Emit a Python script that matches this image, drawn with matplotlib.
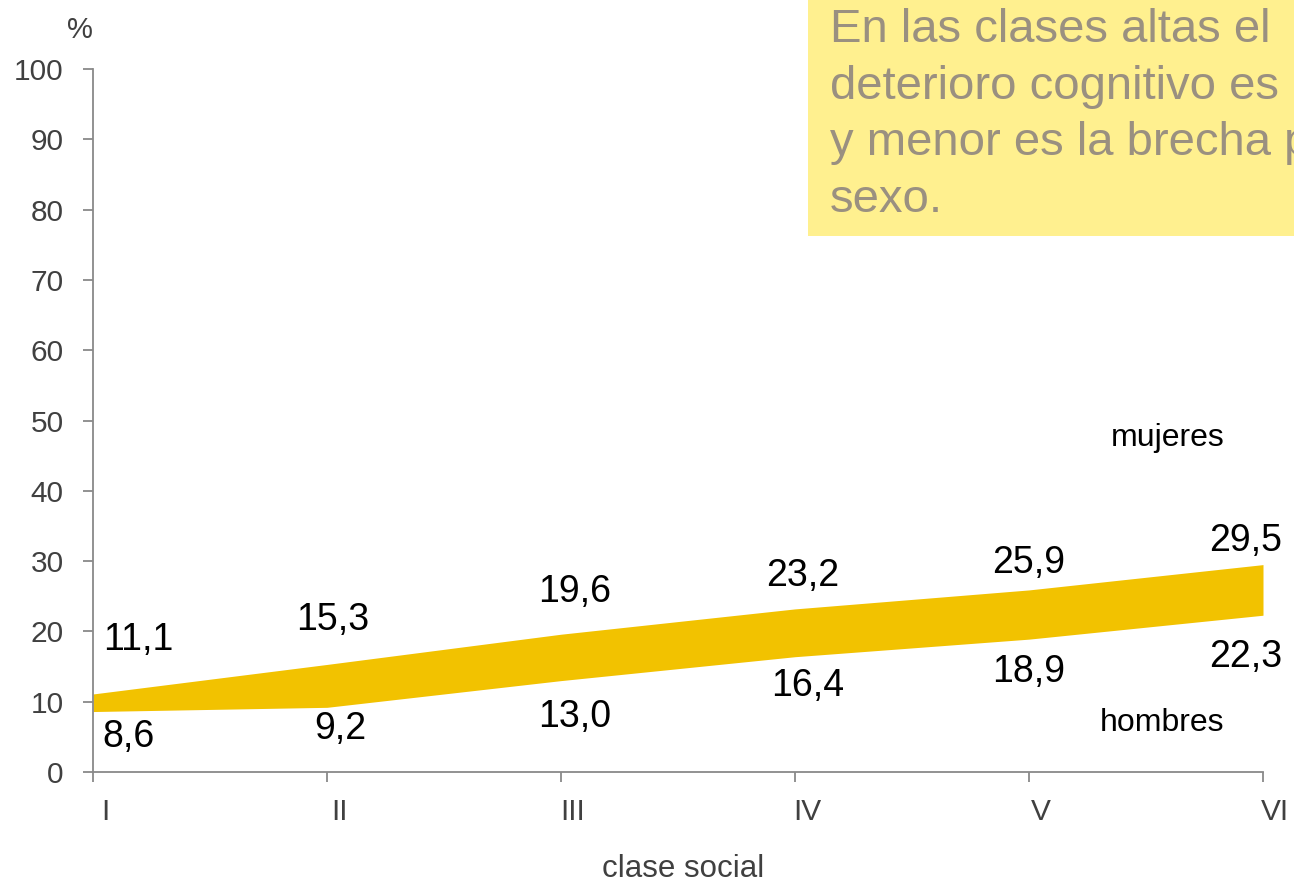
import matplotlib
matplotlib.use("Agg")
import matplotlib.pyplot as plt
import matplotlib.transforms as mtransforms
from matplotlib.patches import Rectangle

plt.rcParams['font.family'] = ['Liberation Sans', 'DejaVu Sans']

categories = ["I", "II", "III", "IV", "V", "VI"]
mujeres = [11.1, 15.3, 19.6, 23.2, 25.9, 29.5]
hombres = [8.6, 9.2, 13.0, 16.4, 18.9, 22.3]
mujeres_labels = ["11,1", "15,3", "19,6", "23,2", "25,9", "29,5"]
hombres_labels = ["8,6", "9,2", "13,0", "16,4", "18,9", "22,3"]
yticks = list(range(0, 101, 10))

W, H = 1294, 885
fig = plt.figure(figsize=(W / 100, H / 100), dpi=100)
ax = fig.add_axes([93 / W, (H - 772) / H, (1263 - 93) / W, (772 - 69) / H])

x = list(range(len(categories)))
ax.fill_between(x, hombres, mujeres, color="#F2C200", linewidth=0)

ax.set_xlim(0, len(categories) - 1)
ax.set_ylim(0, 100)
ax.set_yticks(yticks)
ax.set_xticks(x)
ax.set_xticklabels(categories)
for s in ["top", "right"]:
    ax.spines[s].set_visible(False)
for s in ["left", "bottom"]:
    ax.spines[s].set_color("#898989")
    ax.spines[s].set_linewidth(1.3)
ax.tick_params(axis="both", colors="#898989", length=7, width=1.3, direction="out")
ax.tick_params(axis="y", labelcolor="#404040", labelsize=21.5, pad=14)
ax.tick_params(axis="x", labelcolor="#404040", labelsize=21.5, pad=12)
offset = mtransforms.ScaledTranslation(12 / 100, 0, fig.dpi_scale_trans)
for lab in ax.get_xticklabels():
    lab.set_transform(lab.get_transform() + offset)
    lab.set_clip_on(False)

# offsets in pixels (dx, dy) for labels
m_off = [(45, 54), (6, 44), (14, 42), (8, 33), (0, 27), (-17, 24)]
h_off = [(35, -25), (13, -22), (14, -36), (13, -29), (0, -33), (-17, -42)]
for i in x:
    ax.annotate(mujeres_labels[i], (i, mujeres[i]), xytext=m_off[i], textcoords="offset pixels",
                ha="center", va="center", fontsize=27, color="black", annotation_clip=False)
    ax.annotate(hombres_labels[i], (i, hombres[i]), xytext=h_off[i], textcoords="offset pixels",
                ha="center", va="center", fontsize=27, color="black", annotation_clip=False)

fig.text(1168 / W, 1 - 438 / H, "mujeres", ha="center", va="center", fontsize=23, color="black")
fig.text(1162 / W, 1 - 723 / H, "hombres", ha="center", va="center", fontsize=23, color="black")
fig.text(80 / W, 1 - 30 / H, "%", ha="center", va="center", fontsize=21, color="#404040")
fig.text(683 / W, 1 - 869 / H, "clase social", ha="center", va="center", fontsize=22.5, color="#404040")

# annotation box
fig.patches.append(Rectangle((808 / W, 1 - 236 / H), (W - 808) / W + 0.01, 236 / H + 0.01,
                             transform=fig.transFigure, facecolor="#FFF08F", edgecolor="none", zorder=0))
fig.text(830 / W, 1 - 8 / H,
         "En las clases altas el\ndeterioro cognitivo es menor\ny menor es la brecha por\nsexo.",
         ha="left", va="top", fontsize=34, color="#9A9080", linespacing=1.37)

fig.savefig("out.png", dpi=100, facecolor="white")
